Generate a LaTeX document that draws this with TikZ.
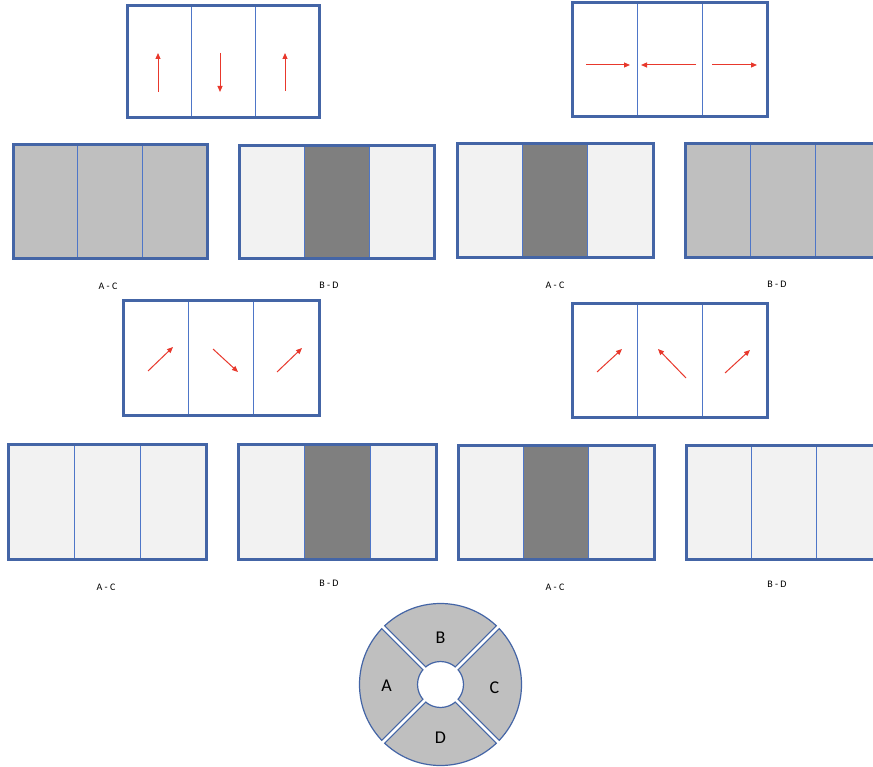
\documentclass[tikz,border=0pt]{standalone}
\usepackage{fontspec}
\setmainfont{Carlito}
\usetikzlibrary{arrows.meta}
\definecolor{frameblue}{RGB}{68,101,166}
\definecolor{divblue}{RGB}{78,118,200}
\definecolor{flowred}{RGB}{232,56,44}
\definecolor{midgray}{RGB}{191,191,191}
\definecolor{darkgray}{RGB}{127,127,127}
\definecolor{paleg}{RGB}{242,242,242}

\begin{document}
\begin{tikzpicture}[x=1pt, y=-1pt,
  frame/.style={draw=frameblue, line width=3pt},
  divider/.style={draw=divblue, line width=1pt},
  flow/.style={draw=flowred, line width=1pt, -{Triangle[length=6pt, width=5pt]}},
  caption/.style={font=\fontsize{10}{12}\selectfont, inner sep=0pt},
  sector/.style={font=\fontsize{18}{20}\selectfont, inner sep=0pt}]
  \useasboundingbox (0,0) rectangle (873,767);
  \clip (0,0) rectangle (873,767);
  % panels: x / y / width / height / outer cells / middle cell
  \foreach \x/\y/\w/\h/\fa/\fb in {
      127/6/192/112/white/white, 572/3/195/114/white/white,
      13/145/194/114/midgray/midgray, 239/146/195/113/paleg/darkgray,
      457/144/196/114/paleg/darkgray, 685/144/195/114/midgray/midgray,
      123/301/196/114/white/white, 572/304/195/113/white/white,
      8/444/198/115/paleg/paleg, 238/444/198/115/paleg/darkgray,
      458/445/196/114/paleg/darkgray, 686/445/195/114/paleg/paleg} {
    \fill[\fa] (\x,\y) rectangle ++(\w,\h);
    \fill[\fb] (\x+\w/3,\y) rectangle ++(\w/3,\h);
    \draw[divider] (\x+\w/3,\y) -- ++(0,\h);
    \draw[divider] (\x+2*\w/3,\y) -- ++(0,\h);
    \draw[frame] (\x,\y) rectangle ++(\w,\h);
  }
  % vertical flow
  \draw[flow] (158,92) -- (158,53);
  \draw[flow] (220,53) -- (220,92);
  \draw[flow] (285,91) -- (285,53);
  % horizontal flow
  \draw[flow] (586,65) -- (630,65);
  \draw[flow] (696,65) -- (641,65);
  \draw[flow] (712,65) -- (757,65);
  % diagonal flow
  \draw[flow] (148,371) -- (173,347);
  \draw[flow] (213,349) -- (238,372);
  \draw[flow] (277,372) -- (302,348);
  \draw[flow] (597,372) -- (622,349);
  \draw[flow] (686,378) -- (658,349);
  \draw[flow] (725,373) -- (750,350);
  % captions
  \node[caption] (ac1) at (108,286) {A - C};
  \node[caption] (bd1) at (329,285) {B - D};
  \node[caption] (ac2) at (555,285) {A - C};
  \node[caption] (bd2) at (777,284) {B - D};
  \node[caption] (ac3) at (106,587) {A - C};
  \node[caption] (bd3) at (329,583) {B - D};
  \node[caption] (ac4) at (555,587) {A - C};
  \node[caption] (bd4) at (777,584) {B - D};
  % ring of four sectors
  \begin{scope}[shift={(440.5,684.5)}]
    \fill[midgray, even odd rule] (0,0) circle (81pt) (0,0) circle (23pt);
    \draw[frameblue, line width=1.2pt] (0,0) circle (81pt) (0,0) circle (23pt);
    \foreach \a in {45,135,225,315} {
      \draw[frameblue, line width=5pt] (\a:23pt) -- (\a:81pt);
      \draw[white, line width=2.6pt] (\a:20pt) -- (\a:84pt);
    }
    \node[sector] (secB) at (0,-47) {B};
    \node[sector] (secA) at (-54,1) {A};
    \node[sector] (secC) at (54,3) {C};
    \node[sector] (secD) at (0,53) {D};
  \end{scope}
\end{tikzpicture}
\end{document}
